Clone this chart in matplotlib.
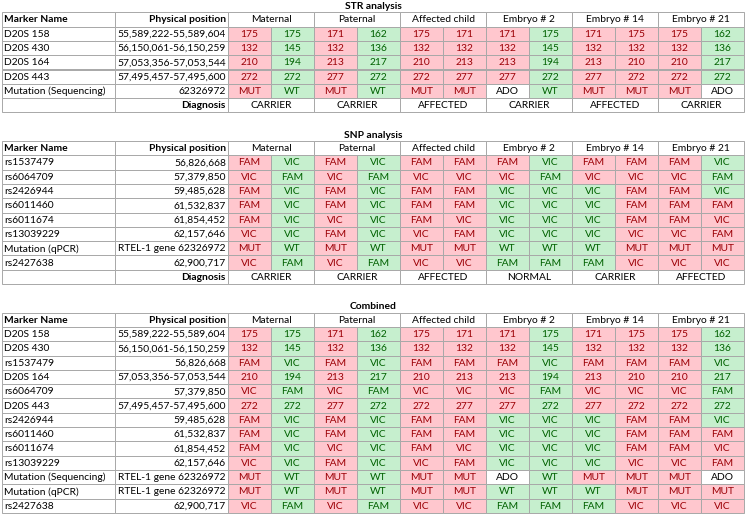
import matplotlib
matplotlib.use("Agg")
import matplotlib.pyplot as plt
from matplotlib.patches import Rectangle

plt.rcParams['font.family'] = ['Lato', 'DejaVu Sans']

# ---- data ----
groups = ["Maternal", "Paternal", "Affected child", "Embryo # 2", "Embryo # 14", "Embryo # 21"]

# haplotype codes: M = linked to mutation (red), W = wild type (green), - = allele drop-out
str_markers = ["D20S 158", "D20S 430", "D20S 164", "D20S 443", "Mutation (Sequencing)"]
str_positions = ["55,589,222-55,589,604", "56,150,061-56,150,259", "57,053,356-57,053,544",
                 "57,495,457-57,495,600", "62326972"]
str_alleles = [
    ["175", "175", "171", "162", "175", "171", "171", "175", "171", "175", "175", "162"],
    ["132", "145", "132", "136", "132", "132", "132", "145", "132", "132", "132", "136"],
    ["210", "194", "213", "217", "210", "213", "213", "194", "213", "210", "210", "217"],
    ["272", "272", "277", "272", "272", "277", "277", "272", "277", "272", "272", "272"],
    ["MUT", "WT", "MUT", "WT", "MUT", "MUT", "ADO", "WT", "MUT", "MUT", "MUT", "ADO"],
]
str_haplo = ["MWMWMMMWMMMW", "MWMWMMMWMMMW", "MWMWMMMWMMMW", "MWMWMMMWMMMW", "MWMWMM-WMMM-"]
str_diagnosis = ["CARRIER", "CARRIER", "AFFECTED", "CARRIER", "AFFECTED", "CARRIER"]

snp_markers = ["rs1537479", "rs6064709", "rs2426944", "rs6011460", "rs6011674", "rs13039229",
               "Mutation (qPCR)", "rs2427638"]
snp_positions = ["56,826,668", "57,379,850", "59,485,628", "61,532,837", "61,854,452",
                 "62,157,646", "RTEL-1 gene 62326972", "62,900,717"]
snp_alleles = [
    ["FAM", "VIC", "FAM", "VIC", "FAM", "FAM", "FAM", "VIC", "FAM", "FAM", "FAM", "VIC"],
    ["VIC", "FAM", "VIC", "FAM", "VIC", "VIC", "VIC", "FAM", "VIC", "VIC", "VIC", "FAM"],
    ["FAM", "VIC", "FAM", "VIC", "FAM", "FAM", "VIC", "VIC", "VIC", "FAM", "FAM", "VIC"],
    ["FAM", "VIC", "FAM", "VIC", "FAM", "FAM", "VIC", "VIC", "VIC", "FAM", "FAM", "FAM"],
    ["FAM", "VIC", "VIC", "VIC", "FAM", "VIC", "VIC", "VIC", "VIC", "FAM", "FAM", "VIC"],
    ["VIC", "VIC", "FAM", "VIC", "VIC", "FAM", "VIC", "VIC", "VIC", "VIC", "VIC", "FAM"],
    ["MUT", "WT", "MUT", "WT", "MUT", "MUT", "WT", "WT", "WT", "MUT", "MUT", "MUT"],
    ["VIC", "FAM", "VIC", "FAM", "VIC", "VIC", "FAM", "FAM", "FAM", "VIC", "VIC", "VIC"],
]
snp_haplo = ["MWMWMMMWMMMW", "MWMWMMMWMMMW", "MWMWMMWWWMMW", "MWMWMMWWWMMM",
             "MWMWMMWWWMMM", "MWMWMMWWWMMM", "MWMWMMWWWMMM", "MWMWMMWWWMMM"]
snp_diagnosis = ["CARRIER", "CARRIER", "AFFECTED", "NORMAL", "CARRIER", "AFFECTED"]

comb_markers = ["D20S 158", "D20S 430", "rs1537479", "D20S 164", "rs6064709", "D20S 443",
                "rs2426944", "rs6011460", "rs6011674", "rs13039229", "Mutation (Sequencing)",
                "Mutation (qPCR)", "rs2427638"]
comb_positions = ["55,589,222-55,589,604", "56,150,061-56,150,259", "56,826,668",
                  "57,053,356-57,053,544", "57,379,850", "57,495,457-57,495,600",
                  "59,485,628", "61,532,837", "61,854,452", "62,157,646",
                  "RTEL-1 gene 62326972", "RTEL-1 gene 62326972", "62,900,717"]

# combined table reuses the genotypes of both analyses
lookup = {}
for m, a, h in zip(str_markers + snp_markers, str_alleles + snp_alleles, str_haplo + snp_haplo):
    lookup[m] = (a, h)
comb_alleles = [lookup[m][0] for m in comb_markers]
comb_haplo = [lookup[m][1] for m in comb_markers]

# ---- styling ----
fill = {"M": "#FFC7CE", "W": "#C6EFCE", "-": "white"}
ink = {"M": "#9C0006", "W": "#006100", "-": "black"}
grid = "#a8a8a8"
FS = 7.4

ROW_H = 14.3
Y0 = -2.0
col_edges = [2, 115, 228] + [228 + 43 * (k + 1) for k in range(12)]

fig = plt.figure(figsize=(7.46, 5.15), dpi=100)
ax = fig.add_axes([0, 0, 1, 1])
ax.set_xlim(0, 746)
ax.set_ylim(515, 0)
ax.axis("off")


def cell(row, c0, c1, text, ha="center", color="black", bg="white", bold=False):
    x0, x1 = col_edges[c0], col_edges[c1]
    y = Y0 + row * ROW_H
    ax.add_patch(Rectangle((x0, y), x1 - x0, ROW_H, facecolor=bg, edgecolor=grid, lw=0.7))
    if ha == "left":
        tx = x0 + 2
    elif ha == "right":
        tx = x1 - 2
    else:
        tx = (x0 + x1) / 2
    ax.text(tx, y + ROW_H / 2 + 0.5, text, ha=ha, va="center", fontsize=FS, color=color,
            fontweight="bold" if bold else "normal")


def draw_table(start, title, markers, positions, alleles, haplo, diagnosis=None):
    ax.text((col_edges[0] + col_edges[-1]) / 2, Y0 + start * ROW_H + ROW_H / 2 + 1.5, title,
            ha="center", va="center", fontsize=FS, fontweight="bold")
    r = start + 1
    cell(r, 0, 1, "Marker Name", ha="left", bold=True)
    cell(r, 1, 2, "Physical position", ha="right", bold=True)
    for g, name in enumerate(groups):
        cell(r, 2 + 2 * g, 4 + 2 * g, name)
    for i, m in enumerate(markers):
        r += 1
        cell(r, 0, 1, m, ha="left")
        cell(r, 1, 2, positions[i], ha="right")
        for j, val in enumerate(alleles[i]):
            h = haplo[i][j]
            cell(r, 2 + j, 3 + j, val, color=ink[h], bg=fill[h])
    if diagnosis is not None:
        r += 1
        cell(r, 0, 1, "")
        cell(r, 1, 2, "Diagnosis", ha="right", bold=True)
        for g, d in enumerate(diagnosis):
            cell(r, 2 + 2 * g, 4 + 2 * g, d)
    return r + 2


nxt = draw_table(0, "STR analysis", str_markers, str_positions, str_alleles, str_haplo, str_diagnosis)
nxt = draw_table(nxt, "SNP analysis", snp_markers, snp_positions, snp_alleles, snp_haplo, snp_diagnosis)
draw_table(nxt, "Combined", comb_markers, comb_positions, comb_alleles, comb_haplo)

fig.savefig("out.png", dpi=100)
